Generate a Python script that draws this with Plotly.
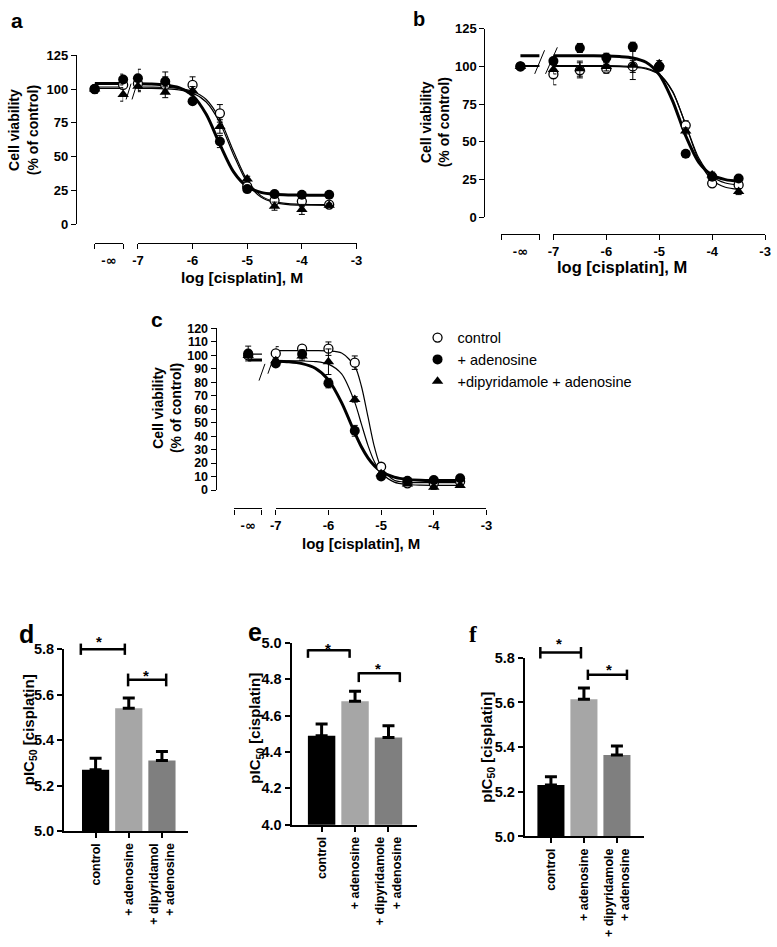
import plotly.graph_objects as go

W, H = 777, 947
FONT = "Liberation Sans, Arial, sans-serif"
SERIF = "Liberation Serif, Times New Roman, serif"

NAMES = {"open": "control", "aden": "+ adenosine", "dip": "+dipyridamole + adenosine"}

# x positions (log M); the "-inf" group sits on its own short axis
X_LOW_A = [-8.0, -7.5]
X_LOW_BC = [-7.75]
X_MAIN = [-7.0, -6.5, -6.0, -5.5, -5.0, -4.5, -4.0, -3.5]
FIT_X = [-7.0, -6.75, -6.5, -6.25, -6.0, -5.75, -5.5, -5.25, -5.0, -4.75, -4.5, -4.25, -4.0, -3.75, -3.5]
FIT_X_C = [-7.0, -6.75, -6.5, -6.25, -6.0, -5.75, -5.5, -5.375, -5.25, -5.125, -5.0, -4.75, -4.5, -4.25,
           -4.0, -3.75, -3.5]
FIT_LOW_A = [-8.0, -7.5]
FIT_LOW_BC = [-7.75, -7.5]

# panel a (cell viability, % of control)
a_open_low, a_open_low_err = [100, 103], [3, 3]
a_open, a_open_err = [104, 103, 103, 82, 28, 17.5, 17, 14.6], [5, 6, 6, 6.5, 2, 2, 4, 2]
a_aden_low, a_aden_low_err = [100, 107], [3, 4]
a_aden, a_aden_err = [108, 105.6, 91, 61.2, 26, 22.3, 21.8, 21.8], [6.6, 7, 2, 4.5, 2, 1.5, 1.5, 1.5]
a_dip_low, a_dip_low_err = [100, 96], [3, 5]
a_dip, a_dip_err = [102, 97.6, 98.8, 72.3, 33.5, 13.4, 11, 14], [4, 4, 3, 5, 2, 3, 3.7, 1.5]
a_open_fit = [101.5, 101.4, 101.2, 100.5, 98.3, 92.2, 77.6, 54.0, 32.6, 21.2, 16.7, 15.2, 14.7, 14.6, 14.5]
a_aden_fit = [103.9, 103.7, 103.0, 101.0, 95.2, 81.3, 59.0, 38.7, 27.8, 23.6, 22.2, 21.7, 21.6, 21.5, 21.5]
a_dip_fit = [100.5, 100.4, 100.1, 99.4, 97.0, 90.4, 75.1, 51.3, 30.7, 20.1, 16.0, 14.6, 14.2, 14.1, 14.0]
a_open_fit_low, a_aden_fit_low, a_dip_fit_low = [101.5, 101.5], [104, 104], [100.5, 100.5]

# panel b
b_open_low, b_open_low_err = [100], [1]
b_open, b_open_err = [94.8, 97.4, 98.5, 100, 100, 61, 22.6, 21.5], [7, 5, 3, 4, 2, 3, 2, 2]
b_aden_low, b_aden_low_err = [100], [1]
b_aden, b_aden_err = [103.5, 112.2, 105.7, 113, 99.6, 42.1, 27, 25.8], [2, 3, 3, 3, 2, 2, 2, 2]
b_dip_low, b_dip_low_err = [100], [1]
b_dip, b_dip_err = [98, 98.5, 100, 100.7, 101.8, 57.3, 28, 17.1], [3, 5, 3, 9.4, 2, 2, 2, 2]
b_open_fit = [100, 100, 100, 100, 100, 99.9, 99.5, 98.3, 94.5, 83.3, 61.5, 39.1, 27.1, 22.8, 21.5]
b_aden_fit = [107, 107, 107, 107, 106.9, 106.5, 105.6, 102.7, 94.6, 77.4, 54.0, 36.3, 28.0, 25.0, 24.0]
b_dip_fit = [100.5, 100.5, 100.5, 100.5, 100.5, 100.4, 100.0, 98.9, 95.0, 83.7, 61.3, 37.6, 24.7, 20.0, 18.6]
b_open_fit_low, b_aden_fit_low, b_dip_fit_low = [100, 100], [107, 107], [100.5, 100.5]

# panel c
c_open_low, c_open_low_err = [100], [2]
c_open, c_open_err = [101.5, 105, 105, 94.6, 17.3, 5, 5, 6.3], [5, 2, 5, 5, 2, 1, 1, 1]
c_aden_low, c_aden_low_err = [101.4], [5.5]
c_aden, c_aden_err = [94, 101, 79.4, 44, 10, 6.8, 7.5, 8.8], [2, 3, 3.5, 4, 1.5, 1, 1, 1]
c_dip_low, c_dip_low_err = [100], [2]
c_dip, c_dip_err = [96, 99.5, 95.3, 67.3, 12, 4.4, 2, 3.4], [2, 3, 9.5, 2, 1.5, 1, 1.5, 1]
c_open_fit = [103.5, 103.5, 103.5, 103.5, 103.3, 101.8, 92.0, 77.3, 54.5, 31.7, 17.1, 7.2, 5.7, 5.5, 5.5, 5.5, 5.5]
c_aden_fit = [95.7, 95.3, 93.9, 90.4, 81.8, 64.9, 42.4, 32.1, 23.9, 17.9, 13.8, 9.6, 7.9, 7.3, 7.1, 7.0, 7.0]
c_dip_fit = [96.0, 96.0, 95.9, 95.4, 93.5, 86.2, 65.1, 49.1, 33.2, 20.8, 12.8, 5.9, 4.1, 3.6, 3.5, 3.5, 3.5]
c_open_fit_low, c_aden_fit_low, c_dip_fit_low = [101, 101], [96.5, 96.5], [96.5, 96.5]

# panels d-f (pIC50)
BAR_POS = [0, 1, 2]
CATS_D = ["control", "+ adenosine", "+ dipyridamol<br>+ adenosine"]
CATS_EF = ["control", "+ adenosine", "+ dipyridamole<br>+ adenosine"]
BAR_COLORS = ["#000000", "#a6a6a6", "#7f7f7f"]
d_vals, d_err = [5.27, 5.54, 5.31], [0.05, 0.045, 0.04]
e_vals, e_err = [4.49, 4.68, 4.48], [0.065, 0.055, 0.065]
f_vals, f_err = [5.23, 5.615, 5.365], [0.037, 0.05, 0.04]

MAIN_TICKS = [-7, -6, -5, -4, -3]
MAIN_TEXT = ["-7", "-6", "-5", "-4", "-3"]
LOW_ENDS = [-8, -7.5]
LOW_MID = [-7.75]
LOW_TEXT = ["-<span style='font-family:DejaVu Sans'>∞</span>"]


def px(x):
    return x / W


def py(y):
    return 1 - y / H


def x_axis(dom, rng, line_y, tickvals, ticktext, size=13, ends=None):
    ax = dict(domain=[px(dom[0]), px(dom[1])], range=rng, anchor="free", position=py(line_y),
              showline=True, linecolor="black", linewidth=1.3, ticks="outside", ticklen=5, tickwidth=1.3,
              tickcolor="black", tickmode="array", tickvals=tickvals, ticktext=ticktext,
              showgrid=False, zeroline=False,
              tickfont=dict(family=FONT, size=size, color="black", weight="bold"))
    if ends is not None:
        # "-inf" segment: label in the middle, tick marks only at both ends
        ax["tickcolor"] = "rgba(0,0,0,0)"
        ax["minor"] = dict(tickmode="array", tickvals=ends, ticks="outside", ticklen=5, tickwidth=1.3,
                           tickcolor="black", showgrid=False)
    return ax


def y_axis(top, bottom, rng, left_x, dtick, size=13):
    return dict(domain=[py(bottom), py(top)], range=rng, anchor="free", position=px(left_x),
                showline=True, linecolor="black", linewidth=1.3, ticks="outside", ticklen=5, tickwidth=1.3,
                tickcolor="black", tickmode="linear", tick0=0, dtick=dtick, showgrid=False, zeroline=False,
                tickfont=dict(family=FONT, size=size, color="black", weight="bold"))


def points(x, y, err, kind, xa, ya, legend=False):
    style = {
        "open": dict(symbol="circle", size=9, color="white", line=dict(color="black", width=1.3)),
        "aden": dict(symbol="circle", size=10, color="black"),
        "dip": dict(symbol="triangle-up", size=10, color="black"),
    }[kind]
    return go.Scatter(x=x, y=y, mode="markers", marker=style, name=NAMES[kind], showlegend=legend,
                      error_y=dict(type="data", array=err, color="black", thickness=1, width=3),
                      xaxis=xa, yaxis=ya, cliponaxis=False, hoverinfo="skip")


def fit(x, y, kind, xa, ya):
    w = 3 if kind == "aden" else 1.2
    return go.Scatter(x=x, y=y, mode="lines", line=dict(color="black", width=w, shape="spline", smoothing=0.8),
                      xaxis=xa, yaxis=ya, showlegend=False, hoverinfo="skip")


def text(t, x, y, size, angle=0, bold=True, family=FONT):
    return dict(text=t, x=px(x), y=py(y), xref="paper", yref="paper", showarrow=False, textangle=angle,
                xanchor="center", yanchor="middle",
                font=dict(family=family, size=size, color="black", weight="bold" if bold else "normal"))


def seg(x0, y0, x1, y1, w=1.0):
    return dict(type="line", xref="paper", yref="paper", x0=px(x0), y0=py(y0), x1=px(x1), y1=py(y1),
                line=dict(color="black", width=w))


fig = go.Figure()

curve_sets = [
    # (low axis, main axis, y axis, low x, low fit x, fit x, data, legend)
    ("x", "x2", "y", X_LOW_A, FIT_LOW_A, FIT_X,
     {"open": (a_open_low, a_open_low_err, a_open, a_open_err, a_open_fit, a_open_fit_low),
      "aden": (a_aden_low, a_aden_low_err, a_aden, a_aden_err, a_aden_fit, a_aden_fit_low),
      "dip": (a_dip_low, a_dip_low_err, a_dip, a_dip_err, a_dip_fit, a_dip_fit_low)}, False),
    ("x3", "x4", "y2", X_LOW_BC, FIT_LOW_BC, FIT_X,
     {"open": (b_open_low, b_open_low_err, b_open, b_open_err, b_open_fit, b_open_fit_low),
      "aden": (b_aden_low, b_aden_low_err, b_aden, b_aden_err, b_aden_fit, b_aden_fit_low),
      "dip": (b_dip_low, b_dip_low_err, b_dip, b_dip_err, b_dip_fit, b_dip_fit_low)}, False),
    ("x5", "x6", "y3", X_LOW_BC, FIT_LOW_BC, FIT_X_C,
     {"open": (c_open_low, c_open_low_err, c_open, c_open_err, c_open_fit, c_open_fit_low),
      "aden": (c_aden_low, c_aden_low_err, c_aden, c_aden_err, c_aden_fit, c_aden_fit_low),
      "dip": (c_dip_low, c_dip_low_err, c_dip, c_dip_err, c_dip_fit, c_dip_fit_low)}, True),
]

for xl, xm, ya, xlow, flow, fx, series, legend in curve_sets:
    for kind, (lo, lo_err, main, main_err, fitv, fit_low) in series.items():
        fig.add_trace(fit(flow, fit_low, kind, xl, ya))
        fig.add_trace(fit(fx, fitv, kind, xm, ya))
    for kind, (lo, lo_err, main, main_err, fitv, fit_low) in series.items():
        fig.add_trace(points(xlow, lo, lo_err, kind, xl, ya))
        fig.add_trace(points(X_MAIN, main, main_err, kind, xm, ya, legend))

bar_sets = [("x7", "y4", d_vals, d_err), ("x8", "y5", e_vals, e_err), ("x9", "y6", f_vals, f_err)]
for xa, ya, vals, err in bar_sets:
    fig.add_trace(go.Bar(x=BAR_POS, y=vals, width=0.82, marker=dict(color=BAR_COLORS, line=dict(width=0)),
                         error_y=dict(type="data", symmetric=False, array=err, arrayminus=[0, 0, 0],
                                      color="black", thickness=3, width=6),
                         xaxis=xa, yaxis=ya, showlegend=False, hoverinfo="skip"))


def bar_x(dom, rng, ya, cats):
    return dict(domain=[px(dom[0]), px(dom[1])], range=rng, anchor=ya, showline=True, linecolor="black",
                linewidth=2, ticks="outside", ticklen=5, tickwidth=2, tickcolor="black", tickvals=BAR_POS,
                ticktext=cats, tickangle=-90, showgrid=False, zeroline=False,
                tickfont=dict(family=FONT, size=12.5, color="black", weight="bold"))


def bar_y(top, bottom, rng, xa, vals):
    return dict(domain=[py(bottom), py(top)], range=rng, anchor=xa, showline=True, linecolor="black",
                linewidth=2, ticks="outside", ticklen=5, tickwidth=2, tickcolor="black", tickvals=vals,
                tickformat=".1f", showgrid=False, zeroline=False,
                tickfont=dict(family=FONT, size=14.5, color="black", weight="bold"))


fig.update_layout(
    width=W, height=H, margin=dict(l=0, r=0, t=0, b=0),
    paper_bgcolor="white", plot_bgcolor="rgba(0,0,0,0)", hovermode=False,
    xaxis=x_axis((90, 119), [-8, -7.5], 239, LOW_MID, LOW_TEXT, ends=LOW_ENDS),
    xaxis2=x_axis((134, 356), [-7, -3], 239, MAIN_TICKS, MAIN_TEXT),
    yaxis=y_axis(48, 220, [0, 125], 71, 25),
    xaxis3=x_axis((503, 542), [-8, -7.5], 230, LOW_MID, LOW_TEXT, ends=LOW_ENDS),
    xaxis4=x_axis((556, 771), [-7, -3], 230, MAIN_TICKS, MAIN_TEXT),
    yaxis2=y_axis(21, 213, [0, 125], 486, 25),
    xaxis5=x_axis((232, 260), [-8, -7.5], 509, LOW_MID, LOW_TEXT, ends=LOW_ENDS),
    xaxis6=x_axis((274, 488), [-7, -3], 509, MAIN_TICKS, MAIN_TEXT),
    yaxis3=y_axis(326, 490.3, [0, 120], 213, 10, size=12.5),
    xaxis7=bar_x((59, 185), [-0.95, 2.79], "y4", CATS_D),
    yaxis4=bar_y(652, 837.3, [5.0, 5.8], "x7", [5.0, 5.2, 5.4, 5.6, 5.8]),
    xaxis8=bar_x((290, 417), [-0.9, 2.84], "y5", CATS_EF),
    yaxis5=bar_y(646, 830.7, [4.0, 5.0], "x8", [4.0, 4.2, 4.4, 4.6, 4.8, 5.0]),
    xaxis9=bar_x((527, 648), [-0.79, 2.82], "y6", CATS_EF),
    yaxis6=bar_y(661, 842.7, [5.0, 5.8], "x9", [5.0, 5.2, 5.4, 5.6, 5.8]),
    showlegend=True,
    legend=dict(x=px(418), y=py(319), xanchor="left", yanchor="top", bgcolor="rgba(0,0,0,0)",
                font=dict(family=FONT, size=14.5, color="black")),
)

ann = [
    text("a", 11, 13, 21), text("b", 419, 11, 20), text("c", 153, 316.5, 21),
    text("d", 20.5, 637, 25), text("e", 253, 635, 25), text("f", 474, 637, 23, family=SERIF),
    text("Cell viability<br>(% of control)", 17.5, 124, 14, angle=-90),
    text("Cell viability<br>(% of control)", 436, 116, 14, angle=-90),
    text("Cell viability<br>(% of control)", 163.5, 407, 14, angle=-90),
    text("log [cisplatin], M", 240, 274, 15.5),
    text("log [cisplatin], M", 626, 263, 16.5),
    text("log [cisplatin], M", 361, 545, 15),
    text("pIC<sub>50</sub> [cisplatin]", 24, 734, 15, angle=-90),
    text("pIC<sub>50</sub> [cisplatin]", 254, 733, 15, angle=-90),
    text("pIC<sub>50</sub> [cisplatin]", 489, 752, 15, angle=-90),
    text("*", 94, 644, 15), text("*", 142, 679, 15),
    text("*", 327, 651, 15), text("*", 378, 672, 15),
    text("*", 562, 646, 15), text("*", 612, 673, 15),
]
fig.update_layout(annotations=ann)

shapes = [
    # axis breaks
    seg(122, 93, 127, 77), seg(128, 93, 133, 77),
    seg(537, 67, 547, 43), seg(548, 67, 560, 40),
    seg(257, 379, 263, 362), seg(266, 372, 272, 355),
    # significance brackets d
    seg(76, 652.3, 120.7, 652.3, 2.5), seg(76, 646.5, 76, 658, 2.5), seg(120.7, 646.5, 120.7, 658, 2.5),
    seg(124, 683.3, 162.7, 683.3, 2.5), seg(124, 677, 124, 690, 2.5), seg(162.7, 677, 162.7, 690, 2.5),
    # e
    seg(306.7, 653.3, 349, 653.3, 2.5), seg(306.7, 652.3, 306.7, 661, 2.5), seg(349, 652.3, 349, 661, 2.5),
    seg(358.3, 676.7, 400, 676.7, 2.5), seg(358.3, 675.7, 358.3, 685.7, 2.5), seg(400, 675.7, 400, 685.7, 2.5),
    # f
    seg(542.7, 655.7, 584, 655.7, 2.5), seg(542.7, 650, 542.7, 661.7, 2.5), seg(584, 650, 584, 661.7, 2.5),
    seg(591, 678.3, 630.7, 678.3, 2.5), seg(591, 673, 591, 683.5, 2.5), seg(630.7, 673, 630.7, 683.5, 2.5),
]
fig.update_layout(shapes=shapes)

# the page's default body margin would shift the whole figure by 8 px
fig.write_html("out.html", config={"displayModeBar": False},
               post_script="document.body.style.margin = '0px';")
